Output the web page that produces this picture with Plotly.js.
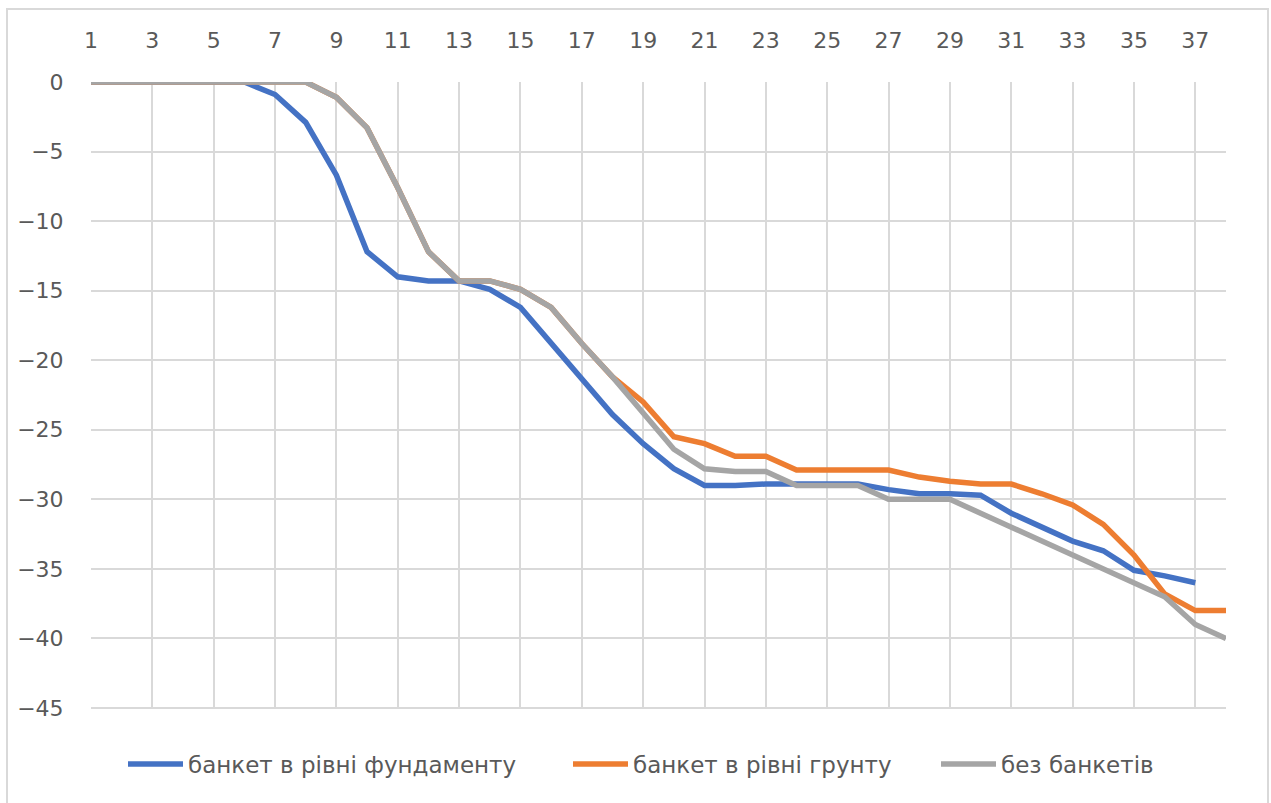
<!DOCTYPE html>
<html>
<head>
<meta charset="utf-8">
<script src="https://cdn.plot.ly/plotly-3.0.1.min.js"></script>
<style>
  html, body { margin: 0; padding: 0; background: #fff; }
  #chart { width: 1271px; height: 803px; }
</style>
</head>
<body>
<div id="chart"></div>
<script>
// Step numbers along the horizontal axis
const steps = [1, 2, 3, 4, 5, 6, 7, 8, 9, 10, 11, 12, 13, 14, 15, 16, 17, 18, 19,
               20, 21, 22, 23, 24, 25, 26, 27, 28, 29, 30, 31, 32, 33, 34, 35, 36, 37, 38];

// Series names
const seriesNames = ['банкет в рівні фундаменту', 'банкет в рівні грунту', 'без банкетів'];

// Settlement values per step
const bermAtFoundation = [0, 0, 0, 0, 0, 0, -0.9, -2.9, -6.7, -12.2, -14.0, -14.3, -14.3, -14.9,
  -16.2, -18.8, -21.3, -23.9, -26.0, -27.8, -29.0, -29.0, -28.9, -28.9, -28.9, -28.9, -29.3,
  -29.6, -29.6, -29.7, -31.0, -32.0, -33.0, -33.7, -35.1, -35.5, -36.0, null];

const bermAtGround = [0, 0, 0, 0, 0, 0, 0, 0, -1.1, -3.3, -7.6, -12.2, -14.3, -14.3,
  -14.9, -16.2, -18.8, -21.2, -23.0, -25.5, -26.0, -26.9, -26.9, -27.9, -27.9, -27.9, -27.9,
  -28.4, -28.7, -28.9, -28.9, -29.6, -30.4, -31.8, -34.0, -36.8, -38.0, -38.0];

const noBerm = [0, 0, 0, 0, 0, 0, 0, 0, -1.1, -3.3, -7.6, -12.2, -14.3, -14.3,
  -14.9, -16.2, -18.8, -21.2, -23.8, -26.4, -27.8, -28.0, -28.0, -29.0, -29.0, -29.0, -30.0,
  -30.0, -30.0, -31.0, -32.0, -33.0, -34.0, -35.0, -36.0, -37.0, -39.0, -40.0];

const colors = ['#4472C4', '#ED7D31', '#A5A5A5'];
const seriesValues = [bermAtFoundation, bermAtGround, noBerm];
// each series gets its own legend box so the entries can be spaced freely
const legendIds = ['legend', 'legend2', 'legend3'];
const legendLeft = [123, 568, 936];

const traces = seriesValues.map((vals, i) => ({
  type: 'scatter',
  mode: 'lines',
  name: seriesNames[i],
  legend: legendIds[i],
  x: steps,
  y: vals,
  line: { color: colors[i], width: 5.5, shape: 'linear' },
  connectgaps: false,
  hoverinfo: 'x+y+name'
}));

const W = 1271, H = 803;
const M = { l: 91, r: 45, t: 82, b: 95 };
const pw = W - M.l - M.r, ph = H - M.t - M.b;
// frame around the whole chart, expressed in paper units
const px = v => (v - M.l) / pw;
const py = v => (H - M.b - v) / ph;

const gridColor = '#d9d9d9';
const tickFont = { family: '"DejaVu Sans", sans-serif', size: 22, color: '#595959' };
const legendFont = { family: '"DejaVu Sans", sans-serif', size: 23, color: '#595959' };

const layout = {
  width: W,
  height: H,
  margin: M,
  paper_bgcolor: '#ffffff',
  plot_bgcolor: '#ffffff',
  showlegend: true,
  font: tickFont,
  xaxis: {
    side: 'top',
    range: [1, 38],
    tick0: 1,
    dtick: 2,
    tickmode: 'linear',
    showgrid: true,
    gridcolor: gridColor,
    gridwidth: 2,
    zeroline: false,
    showline: false,
    ticks: 'outside',
    ticklen: 24,
    tickcolor: 'rgba(0,0,0,0)',
    tickfont: tickFont,
    fixedrange: true
  },
  yaxis: {
    range: [-45, 0],
    tick0: 0,
    dtick: 5,
    tickmode: 'linear',
    showgrid: true,
    gridcolor: gridColor,
    gridwidth: 2,
    zeroline: false,
    showline: false,
    ticks: 'outside',
    ticklen: 22,
    tickcolor: 'rgba(0,0,0,0)',
    tickfont: tickFont,
    fixedrange: true
  },
  shapes: [
    // bottom plot edge drawn like a gridline
    { type: 'line', xref: 'paper', yref: 'paper', x0: 0, x1: 1, y0: 0, y1: 0,
      line: { color: gridColor, width: 2 }, layer: 'below' },
    // chart frame
    { type: 'rect', xref: 'paper', yref: 'paper',
      x0: px(7), x1: px(1268), y0: py(9), y1: py(812),
      line: { color: gridColor, width: 2 }, fillcolor: 'rgba(0,0,0,0)', layer: 'below' }
  ]
};

legendIds.forEach((id, i) => {
  layout[id] = {
    orientation: 'h',
    xref: 'container',
    yref: 'container',
    x: legendLeft[i] / W,
    xanchor: 'left',
    y: (H - 764) / H,
    yanchor: 'middle',
    font: legendFont,
    itemwidth: 55,
    bgcolor: 'rgba(0,0,0,0)'
  };
});

Plotly.newPlot('chart', traces, layout, { displayModeBar: false, staticPlot: true });
</script>
</body>
</html>
